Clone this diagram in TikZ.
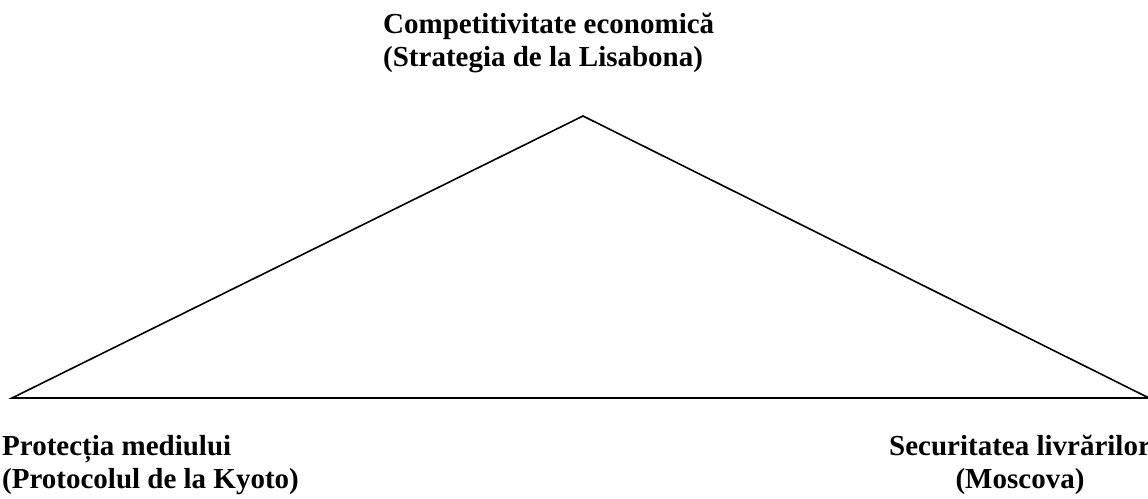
\documentclass[tikz,border=0pt]{standalone}
\usepackage{fontspec}
\setmainfont{Liberation Serif}
\begin{document}
\begin{tikzpicture}[x=1pt, y=-1pt,
    every node/.style={inner sep=0pt, font=\fontsize{29}{33}\selectfont\bfseries}]
    \useasboundingbox (0,0) rectangle (1148,498);
    % Varfuri
    \coordinate (V) at (583,116);
    \coordinate (L) at (12,398);
    \coordinate (R) at (1149,398);

    % Etichete
    \node[anchor=north west, align=left] (comp) at (383,13) {Competitivitate economică\\(Strategia de la Lisabona)};
    \node[anchor=north west, align=left] (mediu) at (2,435) {Protecția mediului\\(Protocolul de la Kyoto)};
    \node[anchor=north, align=center] (secur) at (1020,435) {Securitatea livrărilor\\(Moscova)};

    % Triunghi
    \draw[line width=1.6pt] (V) -- (L) -- (R) -- cycle;

\end{tikzpicture}
\end{document}
